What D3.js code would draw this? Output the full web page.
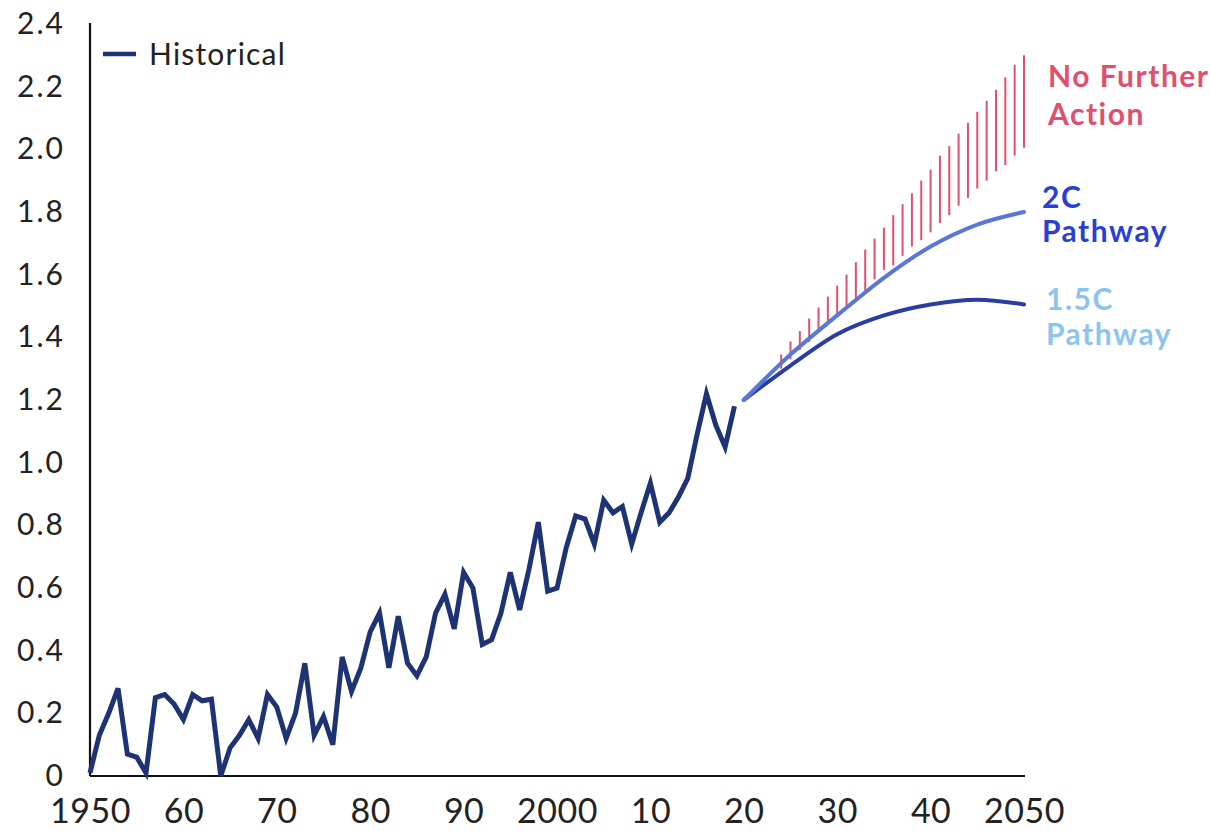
<!DOCTYPE html>
<html>
<head>
<meta charset="utf-8">
<script src="https://cdn.jsdelivr.net/npm/d3@7"></script>
<style>
  html, body { margin: 0; padding: 0; background: #ffffff; }
  svg { display: block; font-family: "Lato", "Noto Sans", sans-serif; }
</style>
</head>
<body>
<svg id="chart" width="1210" height="831"></svg>
<script>
// Historical temperature anomaly (°C), 1950–2019
const histYears = d3.range(1950, 2020);
const histValues = [
  0.01, 0.13, 0.20, 0.28, 0.07, 0.06, 0.01, 0.25, 0.26, 0.23,
  0.18, 0.26, 0.24, 0.245, 0.00, 0.09, 0.13, 0.18, 0.12, 0.26,
  0.22, 0.12, 0.20, 0.36, 0.13, 0.19, 0.10, 0.38, 0.27, 0.345,
  0.46, 0.52, 0.345, 0.51, 0.36, 0.32, 0.38, 0.52, 0.58, 0.47,
  0.65, 0.60, 0.42, 0.435, 0.52, 0.65, 0.53, 0.66, 0.81, 0.59,
  0.60, 0.73, 0.83, 0.82, 0.74, 0.88, 0.84, 0.86, 0.74, 0.84,
  0.935, 0.81, 0.84, 0.89, 0.95, 1.09, 1.22, 1.12, 1.05, 1.18
];

// Pathway projections
const pathYears = [2020, 2025, 2030, 2035, 2040, 2045, 2050];
const path2C = [1.20, 1.345, 1.47, 1.59, 1.69, 1.76, 1.80];
const path15C = [1.20, 1.31, 1.41, 1.47, 1.505, 1.52, 1.505];

// "No further action" range, one bar per year
const nfaYears = d3.range(2024, 2051);
const nfaLow = [
  1.30, 1.33, 1.36, 1.385, 1.415, 1.445, 1.47, 1.495, 1.525, 1.55,
  1.585, 1.615, 1.63, 1.66, 1.69, 1.71, 1.735, 1.765, 1.79, 1.82,
  1.845, 1.875, 1.90, 1.93, 1.95, 1.98, 2.005
];
const nfaHigh = [
  1.345, 1.387, 1.42, 1.46, 1.495, 1.53, 1.565, 1.60, 1.64, 1.68,
  1.715, 1.75, 1.79, 1.825, 1.86, 1.90, 1.935, 1.98, 2.01, 2.05,
  2.085, 2.12, 2.155, 2.19, 2.23, 2.27, 2.30
];

// Axis ticks
const xTicks = [1950, 1960, 1970, 1980, 1990, 2000, 2010, 2020, 2030, 2040, 2050];
const xTickLabels = ["1950", "60", "70", "80", "90", "2000", "10", "20", "30", "40", "2050"];
const yTicks = [0, 0.2, 0.4, 0.6, 0.8, 1.0, 1.2, 1.4, 1.6, 1.8, 2.0, 2.2, 2.4];
const yTickLabels = ["0", "0.2", "0.4", "0.6", "0.8", "1.0", "1.2", "1.4", "1.6", "1.8", "2.0", "2.2", "2.4"];

const colors = {
  hist: "#1e3374",
  p2C: "#5877d6",
  p15C: "#2a3da2",
  nfa: "#e0506e",
  label2C: "#2b3fd4",
  label15C: "#8dc4ec",
  axis: "#111111",
  text: "#222222"
};

const svg = d3.select("#chart");
const x = d3.scaleLinear().domain([1950, 2050]).range([90, 1024]);
const y = d3.scaleLinear().domain([0, 2.4]).range([776, 24]);

// Axes
const xAxis = d3.axisBottom(x)
  .tickValues(xTicks)
  .tickSize(0)
  .tickPadding(22)
  .tickFormat((d, i) => xTickLabels[i]);
const gx = svg.append("g").attr("transform", `translate(0,${y(0)})`).call(xAxis);
gx.select(".domain").attr("stroke", colors.axis).attr("stroke-width", 2.2).attr("d", `M${x(1950)},0H${x(2050) + 1}`);
gx.selectAll("text")
  .attr("font-family", "Lato, sans-serif")
  .attr("font-size", 34)
  .attr("letter-spacing", 0.5)
  .attr("fill", colors.text)
  .attr("dy", "0.73em");

const yAxis = d3.axisLeft(y)
  .tickValues(yTicks)
  .tickSize(0)
  .tickPadding(25)
  .tickFormat((d, i) => yTickLabels[i]);
const gy = svg.append("g").attr("transform", `translate(${x(1950)},0)`).call(yAxis);
gy.select(".domain").attr("stroke", colors.axis).attr("stroke-width", 2.2).attr("d", `M0,${y(0)}V${y(2.4) - 1}`);
gy.selectAll("text")
  .attr("font-family", "Lato, sans-serif")
  .attr("font-size", 30)
  .attr("letter-spacing", 2)
  .attr("fill", colors.text);

// No-further-action hatch bars
svg.append("g")
  .selectAll("line")
  .data(nfaYears)
  .join("line")
  .attr("x1", d => x(d))
  .attr("x2", d => x(d))
  .attr("y1", (d, i) => y(nfaLow[i]))
  .attr("y2", (d, i) => y(nfaHigh[i]))
  .attr("stroke", colors.nfa)
  .attr("stroke-width", 2);

// Lines
const line = d3.line().x(d => x(d[0])).y(d => y(d[1]));
const smooth = d3.line().x(d => x(d[0])).y(d => y(d[1])).curve(d3.curveMonotoneX);

svg.append("path")
  .datum(pathYears.map((yr, i) => [yr, path15C[i]]))
  .attr("d", smooth)
  .attr("fill", "none")
  .attr("stroke", colors.p15C)
  .attr("stroke-width", 4)
  .attr("stroke-linecap", "round");

svg.append("path")
  .datum(pathYears.map((yr, i) => [yr, path2C[i]]))
  .attr("d", smooth)
  .attr("fill", "none")
  .attr("stroke", colors.p2C)
  .attr("stroke-width", 4)
  .attr("stroke-linecap", "round");

svg.append("path")
  .datum(histYears.map((yr, i) => [yr, histValues[i]]))
  .attr("d", line)
  .attr("fill", "none")
  .attr("stroke", colors.hist)
  .attr("stroke-width", 5)
  .attr("stroke-linejoin", "miter")
  .attr("stroke-linecap", "butt");

// Legend
const legend = svg.append("g").attr("transform", "translate(103,54)");
legend.append("line")
  .attr("x1", 0).attr("x2", 33).attr("y1", 0).attr("y2", 0)
  .attr("stroke", colors.hist).attr("stroke-width", 4.5);
legend.append("text")
  .attr("x", 46).attr("y", 0).attr("dy", "0.36em")
  .attr("font-size", 30)
  .attr("letter-spacing", 1.2)
  .attr("fill", colors.text)
  .text("Historical");

// Series labels
const seriesLabels = [
  { lines: ["No Further", "Action"], x: 1048, y: [87, 125], color: colors.nfa },
  { lines: ["2C", "Pathway"], x: 1042, y: [208, 242], color: colors.label2C },
  { lines: ["1.5C", "Pathway"], x: 1046, y: [310, 345], color: colors.label15C }
];
seriesLabels.forEach(lbl => {
  lbl.lines.forEach((t, i) => {
    svg.append("text")
      .attr("x", lbl.x)
      .attr("y", lbl.y[i])
      .attr("font-size", 30)
      .attr("font-weight", 700)
      .attr("letter-spacing", 1.5)
      .attr("fill", lbl.color)
      .text(t);
  });
});
</script>
</body>
</html>
